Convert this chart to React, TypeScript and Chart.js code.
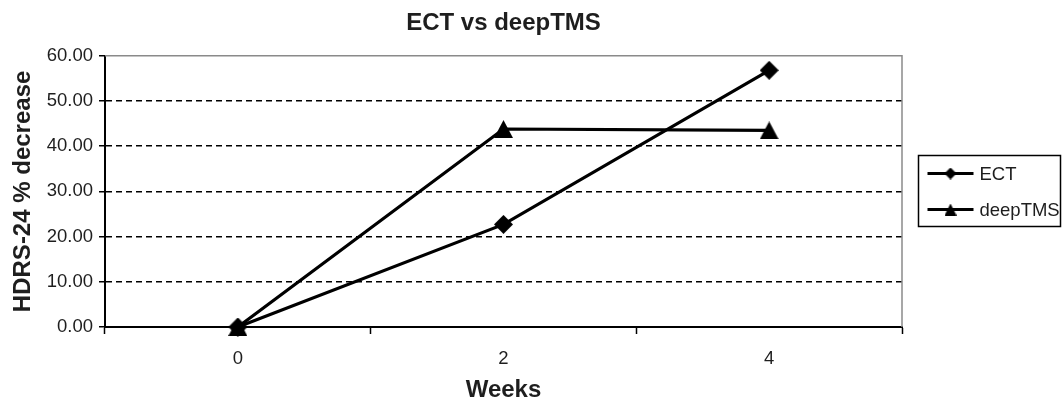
import { useEffect, useRef } from "react";
import { Chart, registerables } from "chart.js";

Chart.register(...registerables);

// ---- data ----
const weeks: string[] = ["0", "2", "4"];
const ectValues: number[] = [0, 22.7, 56.8];
const deepTmsValues: number[] = [0, 43.8, 43.5];
const seriesNames: string[] = ["ECT", "deepTMS"];
const chartTitle = "ECT vs deepTMS";
const xAxisTitle = "Weeks";
const yAxisTitle = "HDRS-24 % decrease";
const yMin = 0;
const yMax = 60;
const yStep = 10;

const FONT = "'Liberation Sans', Arial, sans-serif";
const TEXT = "#1e1e1e";

function makeDiamond(size: number): HTMLCanvasElement {
  const c = document.createElement("canvas");
  c.width = size;
  c.height = size;
  const g = c.getContext("2d")!;
  g.fillStyle = "#000";
  g.beginPath();
  g.moveTo(size / 2, 0);
  g.lineTo(size, size / 2);
  g.lineTo(size / 2, size);
  g.lineTo(0, size / 2);
  g.closePath();
  g.fill();
  return c;
}

function makeTriangle(w: number, h: number): HTMLCanvasElement {
  const c = document.createElement("canvas");
  c.width = w;
  c.height = h;
  const g = c.getContext("2d")!;
  g.fillStyle = "#000";
  g.beginPath();
  g.moveTo(w / 2, 0);
  g.lineTo(w, h);
  g.lineTo(0, h);
  g.closePath();
  g.fill();
  return c;
}

export default function App() {
  const ref = useRef<HTMLCanvasElement | null>(null);

  useEffect(() => {
    if (!ref.current) return;
    const diamond = makeDiamond(19);
    const triangle = makeTriangle(19, 18);
    const legendMarkers = [makeDiamond(12), makeTriangle(12, 12)];

    const plotFrame = {
      id: "plotFrame",
      beforeDatasetsDraw(chart: any) {
        const { ctx, chartArea } = chart;
        ctx.save();
        ctx.strokeStyle = "#8a8a8a";
        ctx.lineWidth = 1.5;
        ctx.beginPath();
        ctx.moveTo(chartArea.left, chartArea.top);
        ctx.lineTo(chartArea.right, chartArea.top);
        ctx.lineTo(chartArea.right, chartArea.bottom);
        ctx.stroke();
        ctx.restore();
      },
    };

    const boxLegend = {
      id: "boxLegend",
      afterDraw(chart: any) {
        const { ctx, chartArea } = chart;
        const x0 = chartArea.right + 16.5;
        const x1 = 1060.5;
        const yc = (chartArea.top + chartArea.bottom) / 2;
        const rowH = 36;
        const n = chart.data.datasets.length;
        const y0 = Math.round(yc - (n * rowH) / 2) + 0.5;
        ctx.save();
        ctx.strokeStyle = "#000";
        ctx.lineWidth = 1.5;
        ctx.strokeRect(x0, y0, x1 - x0, n * rowH - 1);
        chart.data.datasets.forEach((ds: any, i: number) => {
          const y = y0 + 18 + i * rowH;
          const lx0 = x0 + 9;
          const lx1 = x0 + 55;
          ctx.strokeStyle = "#000";
          ctx.lineWidth = 3;
          ctx.beginPath();
          ctx.moveTo(lx0, y);
          ctx.lineTo(lx1, y);
          ctx.stroke();
          const m = legendMarkers[i];
          ctx.drawImage(m, (lx0 + lx1) / 2 - m.width / 2, y - m.height / 2);
          ctx.fillStyle = TEXT;
          ctx.font = `18.5px ${FONT}`;
          ctx.textBaseline = "middle";
          ctx.textAlign = "left";
          ctx.fillText(ds.label, lx1 + 6, y + 1);
        });
        ctx.restore();
      },
    };

    const chart = new Chart(ref.current, {
      type: "line",
      data: {
        labels: weeks,
        datasets: [
          {
            label: seriesNames[0],
            data: ectValues,
            borderColor: "#000",
            backgroundColor: "#000",
            borderWidth: 3.2,
            pointStyle: diamond as any,
            pointRadius: 9,
            pointHoverRadius: 9,
            tension: 0,
            clip: false as any,
            order: 1,
          },
          {
            label: seriesNames[1],
            data: deepTmsValues,
            borderColor: "#000",
            backgroundColor: "#000",
            borderWidth: 3.2,
            pointStyle: triangle as any,
            pointRadius: 9,
            pointHoverRadius: 9,
            tension: 0,
            clip: false as any,
            order: 0,
          },
        ],
      },
      options: {
        responsive: false,
        animation: false,
        layout: { padding: { left: 0, right: 160, top: 0, bottom: 0 } },
        plugins: {
          legend: { display: false },
          tooltip: { enabled: false },
          title: {
            display: true,
            text: chartTitle,
            fullSize: false,
            color: TEXT,
            font: { family: FONT, size: 24, weight: "bold", lineHeight: 1.2 },
            padding: { top: 9, bottom: 18 },
          },
        },
        scales: {
          x: {
            type: "category",
            offset: true,
            grid: {
              offset: true,
              drawOnChartArea: false,
              drawTicks: true,
              tickLength: 7,
              tickColor: "#000",
              tickWidth: 1.5,
            },
            border: { display: true, color: "#000", width: 2 },
            ticks: {
              color: TEXT,
              font: { family: FONT, size: 18.5 },
              padding: 14,
              maxRotation: 0,
            },
            title: {
              display: true,
              text: xAxisTitle,
              color: TEXT,
              font: { family: FONT, size: 24, weight: "bold", lineHeight: 1 },
              padding: 0,
            },
            afterFit: (s: any) => {
              s.height = 75;
            },
          },
          y: {
            type: "linear",
            min: yMin,
            max: yMax,
            ticks: {
              stepSize: yStep,
              color: TEXT,
              font: { family: FONT, size: 18.5 },
              padding: 6,
              callback: (v: any) => Number(v).toFixed(2),
            },
            grid: {
              color: (c: any) =>
                c.tick && (c.tick.value === yMin || c.tick.value === yMax) ? "rgba(0,0,0,0)" : "#000",
              lineWidth: 1.5,
              tickBorderDash: [],
              tickColor: "#000",
              tickLength: 6,
              tickWidth: 1.5,
            },
            border: { display: true, color: "#000", width: 2, dash: [6, 4] },
            title: {
              display: true,
              text: yAxisTitle,
              color: TEXT,
              font: { family: FONT, size: 24, weight: "bold", lineHeight: 1 },
              padding: { top: 11, bottom: 0 },
            },
            afterFit: (s: any) => {
              s.width = 105;
            },
          },
        },
      },
      plugins: [plotFrame, boxLegend],
    });
    return () => chart.destroy();
  }, []);

  return (
    <div style={{ position: "absolute", left: 0, top: 0, width: 1062, height: 402, background: "#fff" }}>
      <canvas ref={ref} width={1062} height={402} style={{ display: "block" }} />
    </div>
  );
}
